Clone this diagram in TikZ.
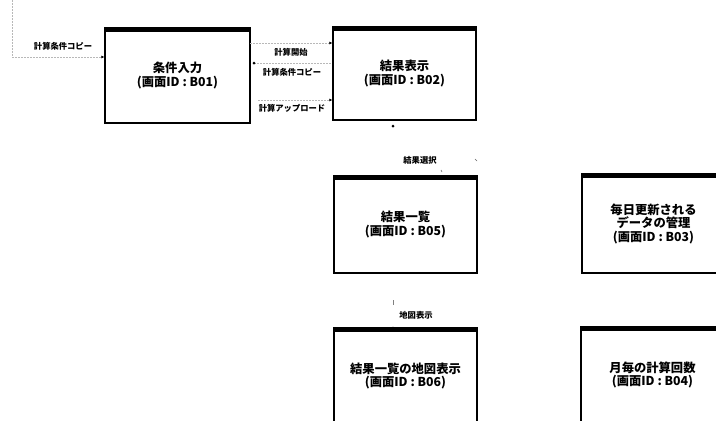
\documentclass[tikz,border=0pt]{standalone}
\usepackage{fontspec}
\setmainfont{Noto Sans CJK JP}
\usetikzlibrary{arrows.meta}
\tikzset{
  screen/.style={draw, line width=1.4pt, minimum width=143pt, align=center,
    inner sep=0pt, font=\bfseries\fontsize{12.3}{13.5}\selectfont},
  conn/.style={draw=black!28, dash pattern=on 1.5pt off 1.5pt, line width=0.6pt},
  tip/.style={-{Latex[length=3pt,width=3pt,black]}},
  lbl/.style={font=\bfseries\fontsize{8.3}{9}\selectfont, inner sep=1pt},
  dotm/.style={circle, fill=black, inner sep=0pt, minimum size=3pt}
}
\newcommand{\hdr}[1]{\fill (#1.north west) rectangle ([yshift=-5pt]#1.north east);}
\begin{document}
\begin{tikzpicture}[x=1pt,y=-1pt]
\useasboundingbox (0,0) rectangle (716,421);
\clip (0,0) rectangle (716,421);
\fill[white] (0,0) rectangle (716,421);

\node[screen, minimum width=145pt, minimum height=95pt] (b01) at (177.5,75.5) {条件入力\\(画面ID : B01)};
\node[screen, minimum height=93pt] (b02) at (404.5,73.5) {結果表示\\(画面ID : B02)};
\node[screen, minimum height=97pt] (b05) at (405.5,224.5) {結果一覧\\(画面ID : B05)};
\node[screen, minimum height=99pt] (b03) at (653.5,223.5) {毎日更新される\\データの管理\\(画面ID : B03)};
\node[screen, minimum height=96pt] (b06) at (405.5,376) {結果一覧の地図表示\\(画面ID : B06)};
\node[screen, minimum height=96pt] (b04) at (652.5,375) {月毎の計算回数\\(画面ID : B04)};
\hdr{b01}\hdr{b02}\hdr{b05}\hdr{b03}\hdr{b06}\hdr{b04}

% left incoming
\coordinate (ltop) at (12,0);
\coordinate (lcor) at (12,57);
\draw[conn] (ltop) -- (lcor);
\draw[conn, tip] (lcor) -- (b01.west |- lcor);
\node[lbl] (l1) at (63,46) {計算条件コピー};

% B01 -> B02
\coordinate (a1) at (250,43);
\draw[conn, tip] (a1) -- (b02.west |- a1);
\node[lbl] (l2) at (291,52) {計算開始};
\coordinate (a2) at (254,63);
\draw[conn] (a2) -- (331,63);
\node[dotm] (d1) at (a2) {};
\node[lbl] (l3) at (292,72) {計算条件コピー};
\coordinate (a3) at (258,100);
\draw[conn, tip] (a3) -- (b02.west |- a3);
\node[lbl] (l4) at (292,108) {計算アップロード};

% B02 bottom
\node[dotm] (d2) at (393,126) {};
\node[lbl] (l5) at (420,160) {結果選択};
\draw[black!60, line width=0.6pt] (475,159) -- (477,161);
\draw[black!60, line width=0.6pt] (441,170) -- (442,172);

% B06 top
\coordinate (t1) at (393,300);
\draw[black!50, line width=0.6pt] (t1) -- (393,305);
\node[lbl] (l6) at (416,315) {地図表示};
\node[dotm] (d3) at (393,328) {};
\end{tikzpicture}
\end{document}
